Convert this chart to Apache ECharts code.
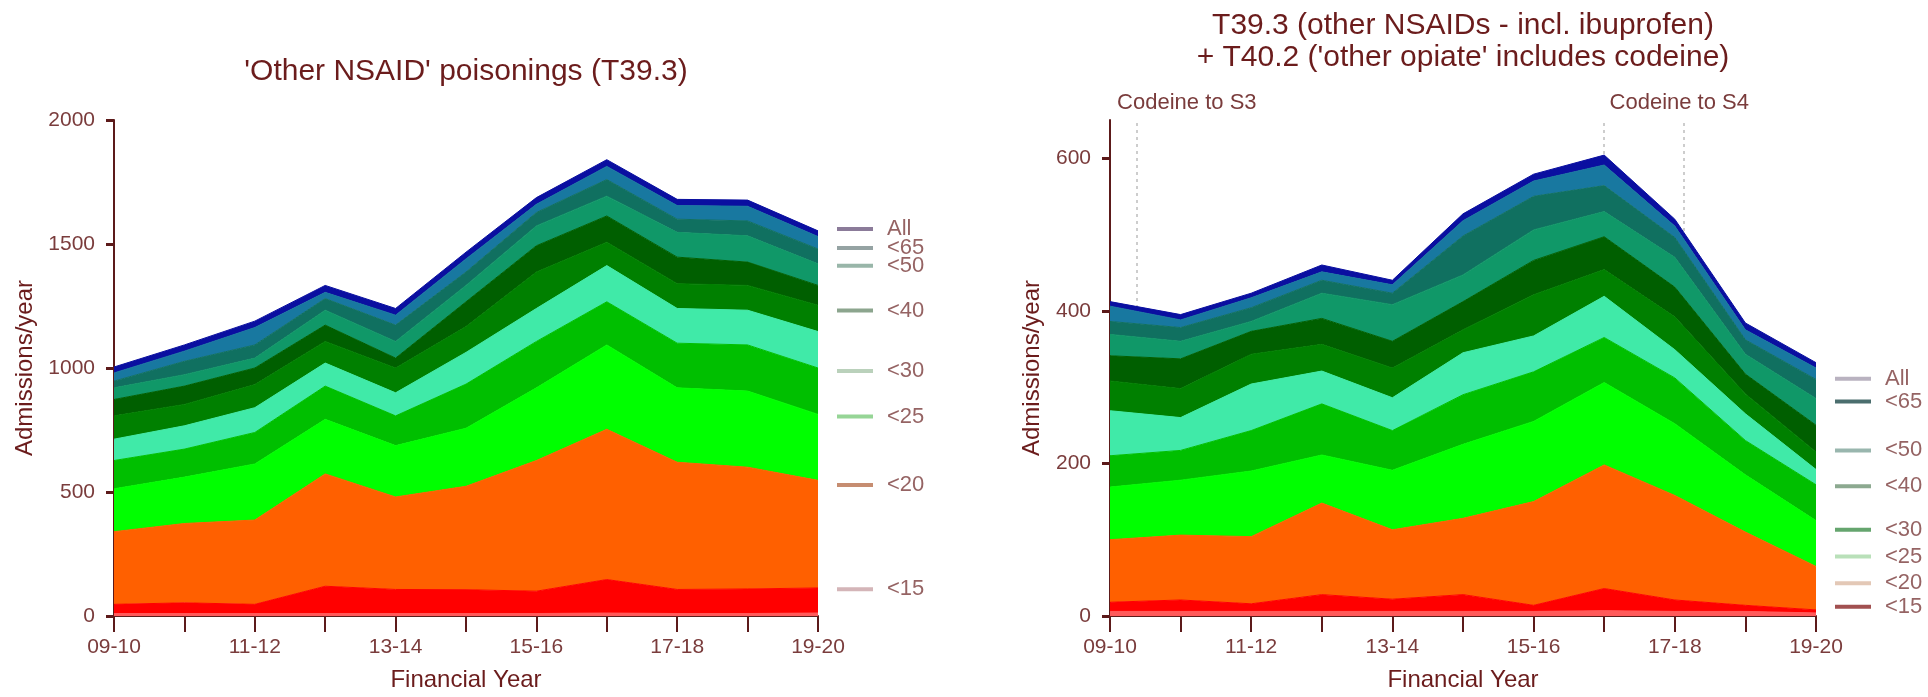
<!DOCTYPE html>
<html><head><meta charset="utf-8">
<script src="https://cdn.jsdelivr.net/npm/echarts@6/dist/echarts.min.js"></script>
<style>html,body{margin:0;padding:0;background:#fff}#c{width:1928px;height:697px}</style>
</head><body><div id="c"></div>
<script>
// ---------- data ----------
const categories = ['09-10','10-11','11-12','12-13','13-14','14-15','15-16','16-17','17-18','18-19','19-20'];
const bandNames = ['<10','<15','<20','<25','<30','<35','<40','<45','<50','<55','<65','All'];

// Left chart: 'Other NSAID' poisonings (T39.3) - band values, bottom to top
const leftU10  = [10,10,10,10,10,10,10,12,10,10,12];
const leftU15  = [37,43,37,110,97,96,90,135,97,99,101];
const leftU20  = [293,320,340,453,373,417,527,606,513,491,434];
const leftU25  = [173,187,226,220,207,234,293,340,300,307,266];
const leftU30  = [114,113,127,134,120,178,187,174,180,186,187];
const leftU35  = [86,94,100,93,93,128,133,146,140,140,147];
const leftU40  = [94,86,93,87,100,104,147,94,100,100,106];
const leftU45  = [66,74,67,66,40,100,106,106,107,94,80];
const leftU50  = [47,46,40,60,67,66,80,80,100,106,87];
const leftU55  = [27,54,53,47,66,54,54,67,53,60,60];
const leftU65  = [33,41,70,25,40,53,33,53,55,59,50];
const leftAll  = [24,25,26,28,27,27,27,27,25,25,23];

// Right chart: T39.3 + T40.2 - band values, bottom to top
const rightU10 = [6,6,6,6,6,6,6,7,6,6,4];
const rightU15 = [12,15,10,22,16,22,8,29,15,8,4];
const rightU20 = [82,85,88,120,91,100,136,162,137,96,57];
const rightU25 = [69,72,86,63,78,97,105,108,94,75,60];
const rightU30 = [41,39,53,67,52,65,65,59,60,45,47];
const rightU35 = [59,43,61,43,43,55,47,54,37,35,20];
const rightU40 = [39,38,39,35,39,30,54,35,43,26,23];
const rightU45 = [33,39,30,34,35,37,45,43,39,26,35];
const rightU50 = [28,23,13,33,48,35,40,33,39,26,35];
const rightU55 = [17,18,18,17,15,51,44,34,26,19,25];
const rightU65 = [20,10,13,11,11,20,20,27,15,13,15];
const rightAll = [6,7,6,9,6,9,9,13,9,9,7];

// end-of-chart key labels (name, level on the y scale)
const leftKeyNames  = ['All','<65','<50','<40','<30','<25','<20','<15'];
const leftKeyLevels = [1560,1484,1412,1232,988,804,528,108];
const rightKeyNames  = ['All','<65','<50','<40','<30','<25','<20','<15'];
const rightKeyLevels = [311,281,217,170,113,78,43,12];

// policy annotations (position on the financial-year index scale)
const codeinePositions = [0.38, 7.0, 8.12];
const codeineTexts = ['Codeine to S3', '', 'Codeine to S4'];

const leftYTicks = [0,500,1000,1500,2000];
const rightYTicks = [0,200,400,600];

// ---------- styles ----------
const bandColors = ['#ff5a5a','#ff0000','#ff6000','#00ff00','#00bf00','#40eaa8','#008000','#005f00','#109868','#107060','#1878a0','#0a0fa0'];
const leftKeyColors  = ['#6e5a80','#7a8c8c','#7fa494','#6f8f72','#a9c6aa','#7ccb7c','#b8704e','#c9a2a6'];
const rightKeyColors = ['#a89fb0','#1e4a4a','#7fa49a','#6f9474','#3f8f4a','#a8d8a8','#dcbaa4','#8a2424'];
const F = "'Liberation Sans', Arial, Helvetica, sans-serif";
const AX = '#5c1a1a';
const TXT = '#7a3c3c';
const DARK = '#6b1c1c';

const leftBands = [leftU10,leftU15,leftU20,leftU25,leftU30,leftU35,leftU40,leftU45,leftU50,leftU55,leftU65,leftAll];
const rightBands = [rightU10,rightU15,rightU20,rightU25,rightU30,rightU35,rightU40,rightU45,rightU50,rightU55,rightU65,rightAll];

function areaSeries(name, data, color, xi, yi, stack) {
  return {
    name, type: 'line', stack, xAxisIndex: xi, yAxisIndex: yi, data,
    symbol: 'none', silent: true, z: 2,
    lineStyle: { width: 1, color },
    itemStyle: { color },
    areaStyle: { color, opacity: 1 }
  };
}
function keySeries(names, levels, colors, xi, yi) {
  return {
    type: 'scatter', xAxisIndex: xi, yAxisIndex: yi, clip: false, silent: true, z: 10,
    symbol: 'rect', symbolSize: [36, 4], symbolOffset: [37, 0],
    data: names.map((n, i) => ({ name: n, value: [categories[categories.length - 1], levels[i]], itemStyle: { color: colors[i] } })),
    label: { show: true, position: 'right', distance: 14, formatter: '{b}', fontSize: 22, color: TXT, fontFamily: F }
  };
}
function catAxis(gi) {
  return {
    type: 'category', gridIndex: gi, data: categories, boundaryGap: false,
    name: 'Financial Year', nameLocation: 'middle', nameGap: 52,
    nameTextStyle: { fontSize: 24, color: DARK, fontFamily: F },
    axisLine: { show: true, lineStyle: { color: AX, width: 2 } },
    axisTick: { show: true, interval: 0, length: 16, lineStyle: { color: AX, width: 2 } },
    axisLabel: { interval: 1, margin: 21, fontSize: 21, color: TXT, fontFamily: F },
    splitLine: { show: false }
  };
}
function valAxis(gi, max, ticks, gap) {
  return {
    type: 'value', gridIndex: gi, min: 0, max,
    name: 'Admissions/year', nameLocation: 'middle', nameGap: gap,
    nameTextStyle: { fontSize: 24, color: DARK, fontFamily: F },
    axisLine: { show: true, lineStyle: { color: AX, width: 2 } },
    axisTick: { show: true, length: 8, lineStyle: { color: AX, width: 3 }, customValues: ticks },
    axisLabel: { margin: 19, fontSize: 21, color: TXT, fontFamily: F, customValues: ticks, formatter: v => String(v) },
    splitLine: { show: false }
  };
}

const series = [];
series.push({
  type: 'line', xAxisIndex: 2, yAxisIndex: 1, data: [], z: 0, silent: true,
  markLine: {
    silent: true, symbol: ['none', 'none'], animation: false, z: 0,
    lineStyle: { color: '#bdbdbd', type: [3, 4], width: 1.5 },
    data: codeinePositions.map((p, i) => ({
      xAxis: p,
      label: codeineTexts[i] ? { show: true, position: 'end', formatter: codeineTexts[i], offset: [i === 0 ? 50 : -4, 0], fontSize: 22, color: TXT, fontFamily: F, distance: 6 } : { show: false }
    }))
  }
});
leftBands.forEach((d, i) => series.push(areaSeries(bandNames[i], d, bandColors[i], 0, 0, 'left')));
rightBands.forEach((d, i) => series.push(areaSeries(bandNames[i], d, bandColors[i], 1, 1, 'right')));
series.push(keySeries(leftKeyNames, leftKeyLevels, leftKeyColors, 0, 0));
series.push(keySeries(rightKeyNames, rightKeyLevels, rightKeyColors, 1, 1));

const option = {
  animation: false,
  backgroundColor: '#fff',
  textStyle: { fontFamily: F },
  title: [
    { text: "'Other NSAID' poisonings (T39.3)", left: 461, top: 52, textAlign: 'center',
      textStyle: { fontSize: 30, fontWeight: 'normal', color: DARK, fontFamily: F } },
    { text: "T39.3 (other NSAIDs - incl. ibuprofen)\n+ T40.2 ('other opiate' includes codeine)", left: 1458, top: 5, textAlign: 'center',
      textStyle: { fontSize: 30, lineHeight: 32, fontWeight: 'normal', color: DARK, fontFamily: F } }
  ],
  grid: [
    { left: 114, top: 120, width: 704, height: 500 },
    { left: 1110, top: 120, width: 706, height: 500 }
  ],
  xAxis: [catAxis(0), catAxis(1), { type: 'value', gridIndex: 1, min: 0, max: categories.length - 1, show: false }],
  yAxis: [valAxis(0, 2000, leftYTicks, 77), valAxis(1, 650, rightYTicks, 66)],
  series
};
const chart = echarts.init(document.getElementById('c'), null, { renderer: 'canvas' });
chart.setOption(option);
</script></body></html>
